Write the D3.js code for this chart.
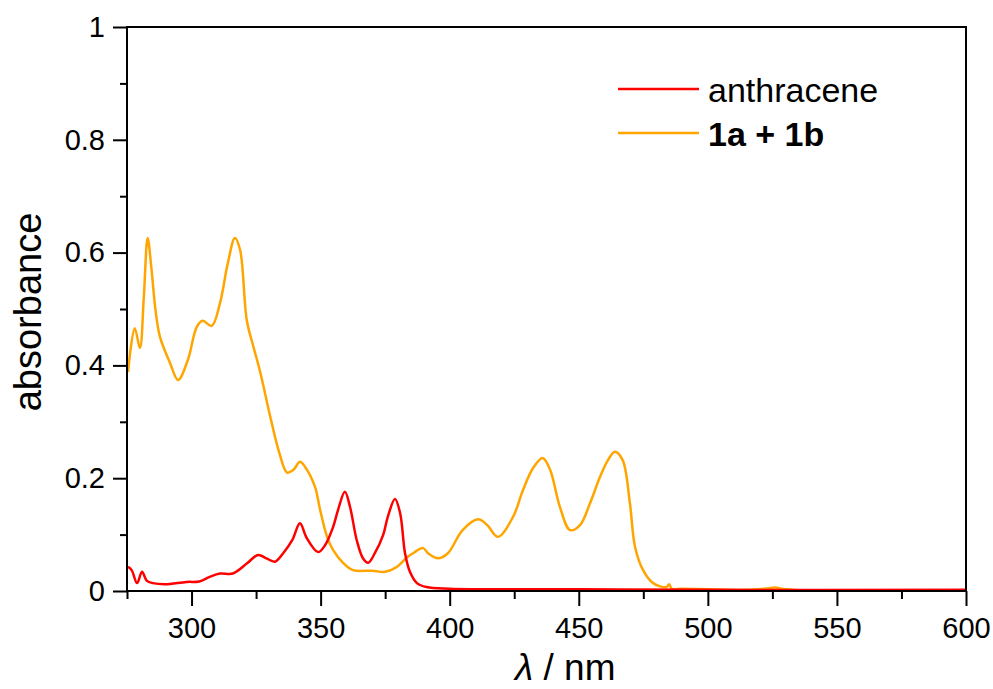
<!DOCTYPE html>
<html>
<head>
<meta charset="utf-8">
<style>
  body { margin: 0; background: #fff; font-family: "Liberation Sans", Arial, sans-serif; }
  svg text { fill: #000; }
</style>
<script src="https://cdn.jsdelivr.net/npm/d3@7"></script>
</head>
<body>
<script>
// data //////////////////////////////////////////////

var anthracene_wl  = [275.4, 276.8, 278.9, 280.8, 282.7, 285, 289.7, 298, 303, 307, 311, 316, 321.5, 325.8, 329, 332.3, 335.5, 339, 342, 344.6, 349, 351.7, 354.8, 356.7, 359.4, 361.4, 364, 366.4, 368.4, 371, 374.2, 376, 378.8, 380.8, 382.7, 384.6, 387.3, 391, 400, 450, 500, 600];
var anthracene_abs = [0.043, 0.037, 0.014, 0.034, 0.018, 0.014, 0.012, 0.016, 0.017, 0.025, 0.031, 0.031, 0.049, 0.064, 0.058, 0.052, 0.067, 0.09, 0.12, 0.094, 0.069, 0.081, 0.113, 0.143, 0.176, 0.149, 0.09, 0.058, 0.05, 0.067, 0.099, 0.131, 0.163, 0.138, 0.067, 0.034, 0.014, 0.007, 0.004, 0.003, 0.002, 0.002];

var mix_wl  = [275.4, 278, 280, 281.5, 283, 284.5, 286, 287.8, 291.7, 294.8, 298.6, 302, 304.3, 307.8, 311, 314, 316.8, 318.8, 321.4, 323.8, 326.5, 330.8, 334, 337, 339.5, 342, 344, 347.8, 349.8, 352.5, 354.8, 358.7, 362.5, 370, 375, 379.6, 383.5, 385.8, 389.7, 391.6, 395.5, 399.3, 405, 411, 414.5, 418.7, 424.5, 428.4, 432.3, 436, 438.9, 442.7, 446.6, 450.5, 454.4, 458.2, 461.3, 464, 467, 469.8, 471.8, 474.9, 478.8, 484, 485, 486, 490, 500, 515, 522, 526, 530, 540, 600];
var mix_abs = [0.388, 0.466, 0.431, 0.52, 0.626, 0.57, 0.5, 0.45, 0.404, 0.374, 0.41, 0.468, 0.479, 0.47, 0.51, 0.58, 0.626, 0.605, 0.48, 0.436, 0.39, 0.303, 0.245, 0.21, 0.215, 0.229, 0.22, 0.185, 0.144, 0.096, 0.073, 0.05, 0.037, 0.036, 0.034, 0.043, 0.06, 0.067, 0.076, 0.067, 0.058, 0.067, 0.108, 0.127, 0.117, 0.096, 0.131, 0.179, 0.218, 0.236, 0.215, 0.149, 0.108, 0.117, 0.156, 0.202, 0.232, 0.247, 0.232, 0.156, 0.078, 0.037, 0.014, 0.007, 0.012, 0.004, 0.004, 0.003, 0.002, 0.004, 0.006, 0.003, 0.001, 0.001];

var x_ticks       = [300, 350, 400, 450, 500, 550, 600];
var x_minor_ticks = [275, 325, 375, 425, 475, 525, 575];
var y_ticks       = [0, 0.2, 0.4, 0.6, 0.8, 1];
var y_minor_ticks = [0.1, 0.3, 0.5, 0.7, 0.9];

var series = [
	{ name: "1a + 1b",    wl: mix_wl,        abs: mix_abs,        color: "#ffa500", bold: true },
	{ name: "anthracene", wl: anthracene_wl, abs: anthracene_abs, color: "#ff0000", bold: false },
];
var legend_order = ["anthracene", "1a + 1b"];

// layout ///////////////////////////////////////////////////////////////////

var W = 993, H = 689;
var margin = {top: 27, right: 27, bottom: 98, left: 127};
var width  = W - margin.left - margin.right,
	height = H - margin.top - margin.bottom;

var svg = d3.select("body").append("svg")
	.attr("width", W)
	.attr("height", H);

var g = svg.append("g")
	.attr("transform", `translate(${margin.left},${margin.top})`);

var x = d3.scaleLinear().domain([275, 600]).range([0, width]);
var y = d3.scaleLinear().domain([0, 1]).range([height, 0]);

g.append("clipPath").attr("id", "clip")
  .append("rect").attr("width", width).attr("height", height);

// lines
var line = d3.line()
	.x(d => x(d[0]))
	.y(d => y(d[1]))
	.curve(d3.curveCatmullRom.alpha(0.5));

for (let s of series) {
	g.append("path")
		.attr("clip-path", "url(#clip)")
		.attr("d", line(d3.zip(s.wl, s.abs)))
		.attr("fill", "none")
		.attr("stroke", s.color)
		.attr("stroke-width", 2.5)
		.attr("stroke-linejoin", "round");
}

// frame
g.append("rect")
	.attr("width", width).attr("height", height)
	.attr("fill", "none").attr("stroke", "#000").attr("stroke-width", 2);

// axes
function style_axis(a) {
	a.select(".domain").remove();
	a.selectAll(".tick line").attr("stroke", "#000").attr("stroke-width", 2);
	a.selectAll(".tick text")
		.attr("font-family", "Liberation Sans, Arial, sans-serif")
		.attr("font-size", 29);
}

g.append("g")
	.attr("transform", `translate(0,${height})`)
	.call(d3.axisBottom(x).tickValues(x_ticks).tickSize(15).tickPadding(11).tickFormat(d3.format("d")))
	.call(style_axis);

g.append("g")
	.attr("transform", `translate(0,${height})`)
	.call(d3.axisBottom(x).tickValues(x_minor_ticks).tickSize(8).tickFormat(""))
	.call(style_axis);

g.append("g")
	.call(d3.axisLeft(y).tickValues(y_ticks).tickSize(14).tickPadding(8).tickFormat(d => d === 0 || d === 1 ? d3.format("d")(d) : d3.format(".1f")(d)))
	.call(style_axis);

g.append("g")
	.call(d3.axisLeft(y).tickValues(y_minor_ticks).tickSize(7).tickFormat(""))
	.call(style_axis);

// axis titles
svg.append("text")
	.attr("transform", `translate(41,${margin.top + height / 2 + 3}) rotate(-90)`)
	.attr("text-anchor", "middle")
	.attr("font-size", 38)
	.text("absorbance");

var xt = svg.append("text")
	.attr("x", 515)
	.attr("y", 680)
	.attr("font-size", 37);
xt.append("tspan").attr("font-style", "italic").text("λ");
xt.append("tspan").text(" / nm");

// legend
var legend = svg.append("g").attr("transform", "translate(618,89)");
legend_order.forEach((name, i) => {
	let s = series.find(d => d.name === name);
	let row = legend.append("g").attr("transform", `translate(0,${i * 44})`);
	row.append("line")
		.attr("x1", 0).attr("x2", 81)
		.attr("stroke", s.color).attr("stroke-width", 2.5);
	row.append("text")
		.attr("x", 90).attr("y", 13)
		.attr("font-size", 34)
		.attr("font-weight", s.bold ? "bold" : "normal")
		.text(s.name);
});
</script>
</body>
</html>
